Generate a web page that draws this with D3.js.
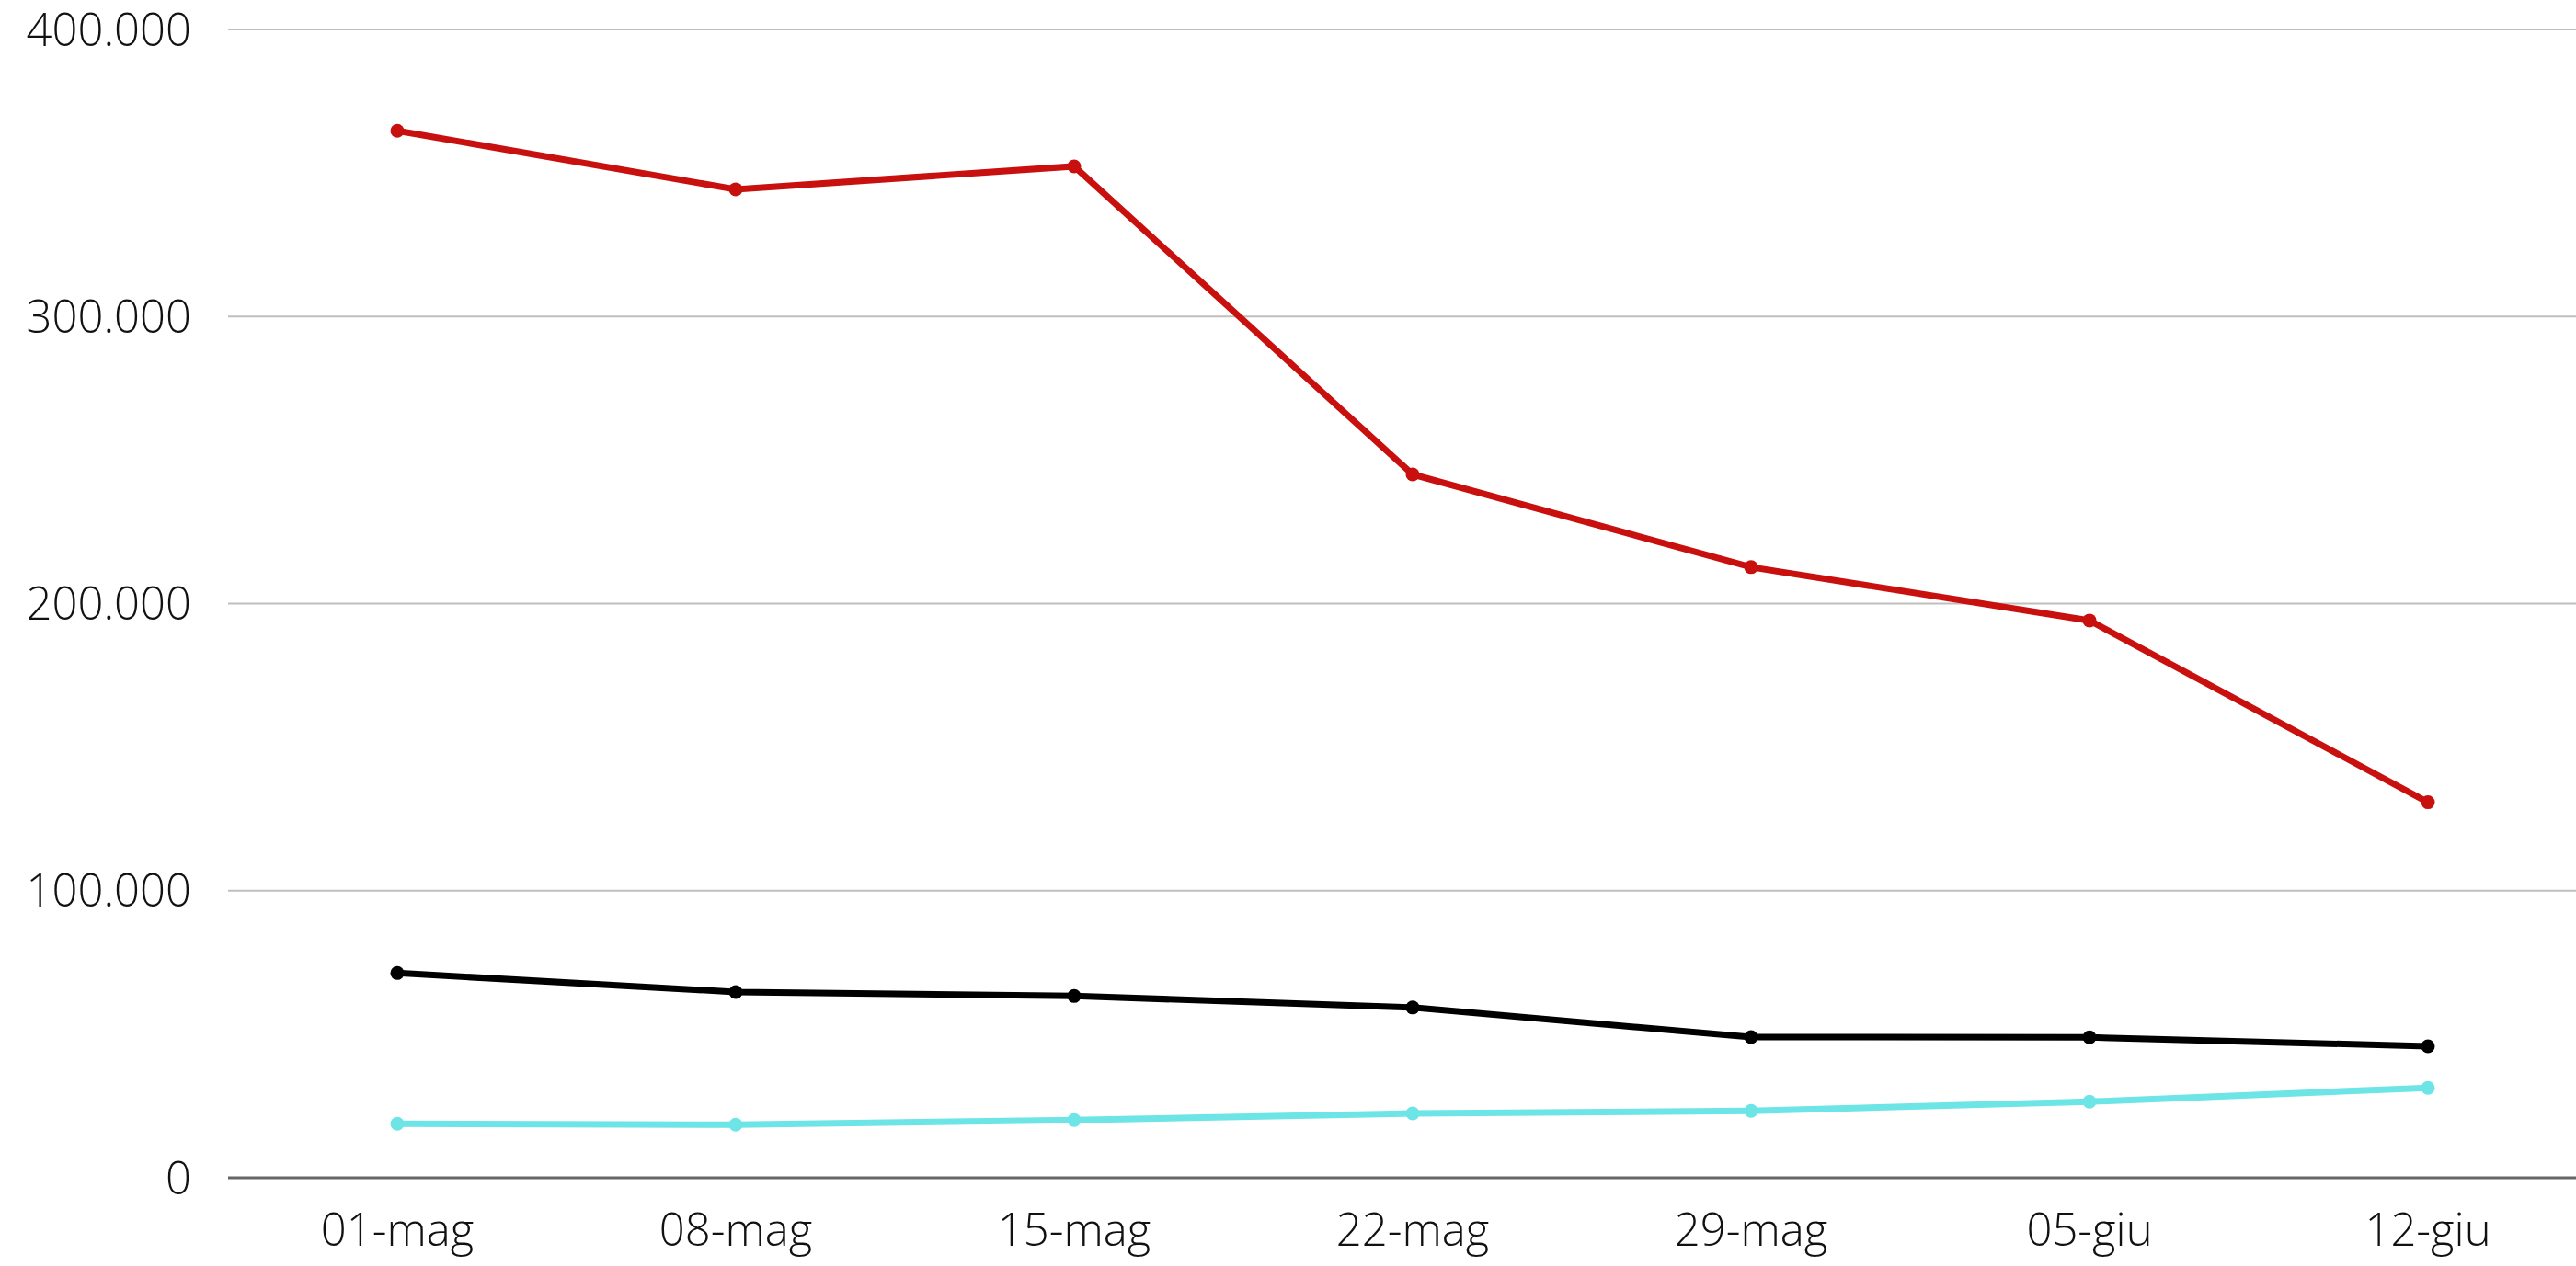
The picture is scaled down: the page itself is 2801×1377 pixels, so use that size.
<!DOCTYPE html>
<html>
<head>
<meta charset="utf-8">
<script src="https://cdn.jsdelivr.net/npm/d3@7"></script>
<style>
  html, body { margin: 0; padding: 0; background: #fff; }
  svg { display: block; font-family: "Open Sans", sans-serif; font-weight: 300; }
</style>
</head>
<body>
<svg width="2801" height="1377"></svg>
<script>
var dates = ["01-mag", "08-mag", "15-mag", "22-mag", "29-mag", "05-giu", "12-giu"];
var redValues = [364700, 344300, 352300, 245000, 212700, 194100, 130800];
var blackValues = [71300, 64700, 63300, 59300, 49000, 48900, 45800];
var cyanValues = [18800, 18500, 20100, 22400, 23300, 26500, 31300];
var yTicks = [0, 100000, 200000, 300000, 400000];

var series = [
  { values: redValues, color: "#c8100f" },
  { values: blackValues, color: "#000000" },
  { values: cyanValues, color: "#6de4e6" }
];

var svg = d3.select("svg");
var width = +svg.attr("width");

var x = d3.scalePoint().domain(dates).range([432, 2640]);
var y = d3.scaleLinear().domain([0, 400000]).range([1281, 32]);

var fmt = function (d) {
  return d3.format(",")(d).replace(/,/g, ".");
};

// gridlines
svg.append("g")
  .selectAll("line")
  .data(yTicks.filter((d) => d > 0))
  .enter()
  .append("line")
  .attr("x1", 248)
  .attr("x2", width)
  .attr("y1", (d) => y(d))
  .attr("y2", (d) => y(d))
  .style("stroke", "#bfbfbf")
  .style("stroke-width", 2);

// y labels
svg.append("g")
  .selectAll("text")
  .data(yTicks)
  .enter()
  .append("text")
  .attr("x", 208)
  .attr("y", (d) => y(d))
  .attr("dy", "0.36em")
  .attr("text-anchor", "end")
  .style("font-size", "49px")
  .style("fill", "#111")
  .text(fmt);

// zero axis
svg.append("line")
  .attr("x1", 248)
  .attr("x2", width)
  .attr("y1", y(0))
  .attr("y2", y(0))
  .style("stroke", "#666")
  .style("stroke-width", 3);

// x labels
svg.append("g")
  .selectAll("text")
  .data(dates)
  .enter()
  .append("text")
  .attr("x", (d) => x(d))
  .attr("y", 1355)
  .attr("text-anchor", "middle")
  .style("font-size", "49px")
  .style("fill", "#111")
  .text((d) => d);

var line = d3
  .line()
  .x((d, i) => x(dates[i]))
  .y((d) => y(d));

series.forEach((s) => {
  svg.append("path")
    .datum(s.values)
    .attr("d", line)
    .style("fill", "none")
    .style("stroke", s.color)
    .style("stroke-width", 7);

  svg.append("g")
    .selectAll("circle")
    .data(s.values)
    .enter()
    .append("circle")
    .attr("cx", (d, i) => x(dates[i]))
    .attr("cy", (d) => y(d))
    .attr("r", 7.5)
    .style("fill", s.color);
});
</script>
</body>
</html>
